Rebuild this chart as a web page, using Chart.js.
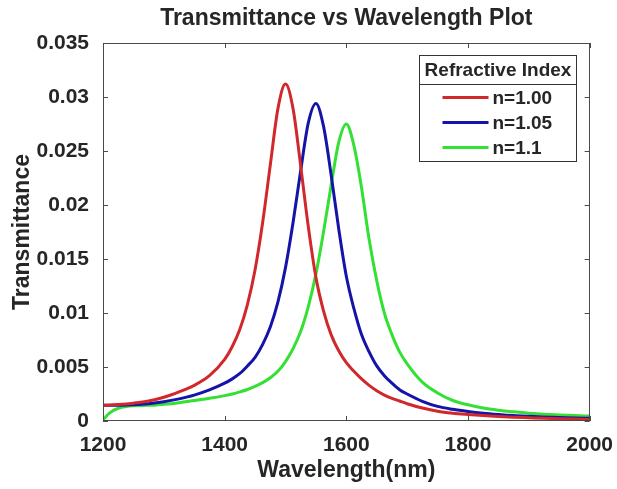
<!DOCTYPE html>
<html>
<head>
<meta charset="utf-8">
<title>Transmittance vs Wavelength</title>
<script src="https://cdn.jsdelivr.net/npm/chart.js@4"></script>
<style>
  html, body { margin: 0; padding: 0; background: #fff; }
  canvas { display: block; }
</style>
</head>
<body>
<canvas id="chart" width="617" height="489"></canvas>
<script>
// wavelength samples (nm) shared by all three curves, denser around the resonances
const wavelengths = [1200, 1210, 1225, 1250, 1275, 1300, 1325, 1350, 1375, 1400,
    1412.5, 1425, 1437.5, 1450, 1462.5, 1475, 1487.5, 1500, 1512.5, 1525, 1537.5, 1550,
    1562.5, 1575, 1587.5, 1600, 1612.5, 1625, 1637.5, 1650, 1662.5, 1675, 1687.5, 1700,
    1725, 1750, 1775, 1800, 1825, 1850, 1875, 1900, 1925, 1950, 1975, 2000];

const tN100 = [0.00145, 0.00147, 0.00152, 0.00165, 0.00185, 0.0022, 0.0027, 0.0033, 0.0042, 0.0057,
    0.0069, 0.0085, 0.0108, 0.0140, 0.0184, 0.0237, 0.0289, 0.0312, 0.0289, 0.0236, 0.0180, 0.0133,
    0.0102, 0.0080, 0.0065, 0.0054, 0.0046, 0.0039, 0.0033, 0.0028, 0.0024, 0.0021, 0.00185, 0.0016,
    0.0012, 0.0009, 0.00072, 0.0006, 0.0005, 0.00042, 0.00035, 0.0003, 0.00025, 0.00021, 0.00018, 0.00015];

const tN105 = [0.00145, 0.00145, 0.00146, 0.0015, 0.0016, 0.00178, 0.00205, 0.0024, 0.00288, 0.0035,
    0.0039, 0.0044, 0.0051, 0.0059, 0.0071, 0.0087, 0.0110, 0.0142, 0.0184, 0.0232, 0.0276, 0.0294,
    0.0273, 0.0228, 0.0178, 0.0134, 0.0104, 0.0080, 0.0064, 0.0051, 0.0042, 0.0035, 0.0029, 0.0025,
    0.00182, 0.00135, 0.00108, 0.00088, 0.00072, 0.0006, 0.0005, 0.00043, 0.00037, 0.00032, 0.00028, 0.00025];

const tN110 = [0.0001, 0.0007, 0.00118, 0.00142, 0.00145, 0.00155, 0.0017, 0.0019, 0.0021, 0.00235,
    0.0025, 0.0027, 0.00292, 0.0032, 0.00355, 0.0040, 0.0046, 0.0055, 0.0067, 0.0083, 0.0106, 0.0136,
    0.0175, 0.0218, 0.0258, 0.0275, 0.0255, 0.0216, 0.0168, 0.0130, 0.0100, 0.0080, 0.0064, 0.0053,
    0.0036, 0.0026, 0.0019, 0.0015, 0.0012, 0.0010, 0.00085, 0.00072, 0.00062, 0.00055, 0.0005, 0.00046];

const seriesLabels = ['n=1.00', 'n=1.05', 'n=1.1'];
const seriesColors = ['#d0282b', '#1414a8', '#33e033'];
const xTicks = [1200, 1400, 1600, 1800, 2000];
const yTicks = [0, 0.005, 0.01, 0.015, 0.02, 0.025, 0.03, 0.035];

const chartTitle = 'Transmittance vs Wavelength Plot';
const legendTitle = 'Refractive Index';

const fontFamily = '"Liberation Sans", Arial, Helvetica, sans-serif';
const textColor = '#262626';
const boxColor = '#4a4a4a';

function toPoints(values) {
    return wavelengths.map((w, i) => ({ x: w, y: values[i] }));
}

// MATLAB-like box with inward ticks, title over the axes and the titled legend
const framePlugin = {
    id: 'frame',
    afterDraw(chart) {
        const { ctx, chartArea: a, scales } = chart;
        ctx.save();
        ctx.strokeStyle = boxColor;
        ctx.lineWidth = 1;
        ctx.strokeRect(Math.round(a.left) + 0.5, Math.round(a.top) + 0.5,
            Math.round(a.width) - 1, Math.round(a.height) - 1);

        const len = 5;
        ctx.beginPath();
        xTicks.forEach(v => {
            const px = Math.round(scales.x.getPixelForValue(v)) + 0.5;
            ctx.moveTo(px, a.bottom); ctx.lineTo(px, a.bottom - len);
            ctx.moveTo(px, a.top); ctx.lineTo(px, a.top + len);
        });
        yTicks.forEach(v => {
            const py = Math.round(scales.y.getPixelForValue(v)) + 0.5;
            ctx.moveTo(a.left, py); ctx.lineTo(a.left + len, py);
            ctx.moveTo(a.right, py); ctx.lineTo(a.right - len, py);
        });
        ctx.stroke();

        // title centred on the axes
        ctx.fillStyle = textColor;
        ctx.font = 'bold 23px ' + fontFamily;
        ctx.textAlign = 'center';
        ctx.textBaseline = 'middle';
        ctx.fillText(chartTitle, (a.left + a.right) / 2, 19);

        // legend
        const lw = 157, lh = 106;
        const lx = Math.round(a.right - 14 - lw) + 0.5;
        const ly = Math.round(a.top + 12) + 0.5;
        ctx.fillStyle = '#fff';
        ctx.fillRect(lx, ly, lw, lh);
        ctx.strokeStyle = '#333';
        ctx.strokeRect(lx, ly, lw, lh);
        ctx.beginPath();
        ctx.moveTo(lx, ly + 29); ctx.lineTo(lx + lw, ly + 29);
        ctx.stroke();

        ctx.fillStyle = textColor;
        ctx.font = 'bold 19px ' + fontFamily;
        ctx.fillText(legendTitle, lx + lw / 2, ly + 15);

        ctx.textAlign = 'left';
        chart.data.datasets.forEach((ds, i) => {
            const ry = ly + 42 + i * 25;
            ctx.strokeStyle = ds.borderColor;
            ctx.lineWidth = 3;
            ctx.beginPath();
            ctx.moveTo(lx + 23, ry); ctx.lineTo(lx + 69, ry);
            ctx.stroke();
            ctx.fillStyle = textColor;
            ctx.fillText(ds.label, lx + 73, ry + 1);
        });
        ctx.restore();
    }
};

const ctx = document.getElementById('chart').getContext('2d');
const chart = new Chart(ctx, {
    type: 'line',
    data: {
        datasets: [tN100, tN105, tN110].map((vals, i) => ({
            label: seriesLabels[i],
            data: toPoints(vals),
            borderColor: seriesColors[i],
            backgroundColor: seriesColors[i],
            borderWidth: 3,
            pointRadius: 0,
            cubicInterpolationMode: 'monotone',
            fill: false
        }))
    },
    options: {
        responsive: false,
        animation: false,
        devicePixelRatio: 1,
        layout: { padding: { left: 0, right: 25, top: 43, bottom: 0 } },
        plugins: {
            legend: { display: false },
            tooltip: { enabled: false },
            title: { display: false }
        },
        scales: {
            x: {
                type: 'linear',
                min: 1200,
                max: 2000,
                afterFit: s => { s.height = 68; },
                afterBuildTicks: s => { s.ticks = xTicks.map(v => ({ value: v })); },
                grid: { display: false },
                border: { display: false },
                ticks: {
                    color: textColor,
                    padding: 4,
                    maxRotation: 0,
                    font: { family: fontFamily, size: 21, weight: 'bold' },
                    callback: v => String(v)
                },
                title: {
                    display: true,
                    text: 'Wavelength(nm)',
                    color: textColor,
                    font: { family: fontFamily, size: 23, weight: 'bold' },
                    padding: { top: 0, bottom: 5 }
                }
            },
            y: {
                min: 0,
                max: 0.035,
                afterFit: s => { s.width = 103; },
                afterBuildTicks: s => { s.ticks = yTicks.map(v => ({ value: v })); },
                grid: { display: false },
                border: { display: false },
                ticks: {
                    color: textColor,
                    padding: 6,
                    font: { family: fontFamily, size: 21, weight: 'bold' },
                    callback: v => String(+v.toFixed(3))
                },
                title: {
                    display: true,
                    text: 'Transmittance',
                    color: textColor,
                    font: { family: fontFamily, size: 23, weight: 'bold' },
                    padding: { top: 9, bottom: 0 }
                }
            }
        }
    },
    plugins: [framePlugin]
});
</script>
</body>
</html>
